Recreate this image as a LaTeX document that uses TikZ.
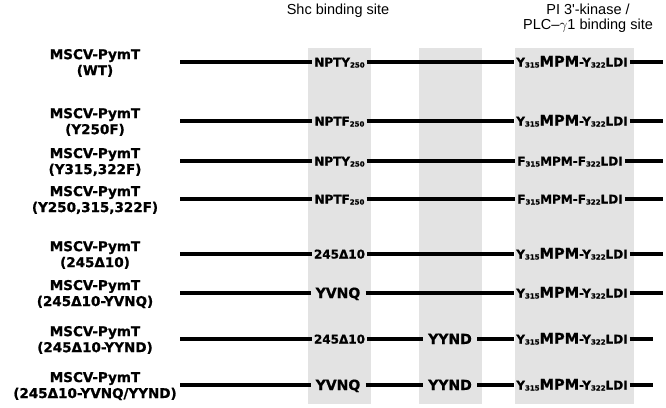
\documentclass[tikz,border=0pt]{standalone}
\usepackage{fontspec}
\setmainfont{Liberation Sans}
\newfontfamily\heavy{DejaVu Sans}[BoldFeatures={FakeBold=0.9}]
\usetikzlibrary{positioning}
\newcommand{\resno}[1]{\raisebox{-1pt}{\fontsize{7}{7}\selectfont#1}}
\newcommand{\ymy}{Y\resno{315}{\fontsize{14.5}{14.5}\selectfont MPM}-Y\resno{322}LDI}
\newcommand{\fmf}{F\resno{315}MPM-F\resno{322}LDI}
\tikzset{
  band/.style={fill=black!11,draw=none},                       % binding site column
  bb/.style={black,line width=3.2pt},                           % PymT backbone
  clone/.style={font=\heavy\bfseries\fontsize{13.5}{16}\selectfont,align=center,inner sep=0pt},
  site/.style={font=\heavy\bfseries\fontsize{12}{12}\selectfont,inner xsep=2pt,inner ysep=0pt,text height=9pt,text depth=0pt},
  bigsite/.style={site,font=\heavy\bfseries\fontsize{14}{14}\selectfont,text height=10pt,inner xsep=5pt},
  head/.style={font=\fontsize{14.5}{15}\selectfont,align=center,inner sep=0pt},
}

\begin{document}
\begin{tikzpicture}[x=1pt,y=-1pt]
  \useasboundingbox (0,0) rectangle (666,407);
  % shaded columns
  \fill[band] (308,48) rectangle (371,404);
  \fill[band] (419,48) rectangle (482,404);
  \fill[band] (515,48) rectangle (634,404);
  \node[head] (shc) at (338,11) {Shc binding site};
  \node[head] (pik) at (588,18.5) {PI 3\textquotesingle-kinase /\\PLC--$\gamma$1 binding site};
  % WT
  \node[clone] (l1) at (95,63) {MSCV-PymT\\(WT)};
  \coordinate (s1) at (180,62); \coordinate (e1) at (663,62);
  \node[site] (a1) at (339.5,62) {NPTY\resno{250}};
  \node[site] (c1) at (572,62) {\ymy};
  \draw[bb] (s1) -- (a1) -- (c1) -- (e1);
  % Y250F
  \node[clone] (l2) at (95,122) {MSCV-PymT\\(Y250F)};
  \coordinate (s2) at (180,121); \coordinate (e2) at (663,121);
  \node[site] (a2) at (339.5,121) {NPTF\resno{250}};
  \node[site] (c2) at (572,121) {\ymy};
  \draw[bb] (s2) -- (a2) -- (c2) -- (e2);
  % Y315,322F
  \node[clone] (l3) at (95,162) {MSCV-PymT\\(Y315,322F)};
  \coordinate (s3) at (180,161); \coordinate (e3) at (663,161);
  \node[site] (a3) at (339.5,161) {NPTY\resno{250}};
  \node[site] (c3) at (570,161) {\fmf};
  \draw[bb] (s3) -- (a3) -- (c3) -- (e3);
  % Y250,315,322F
  \node[clone] (l4) at (95,200) {MSCV-PymT\\(Y250,315,322F)};
  \coordinate (s4) at (180,199); \coordinate (e4) at (663,199);
  \node[site] (a4) at (339.5,199) {NPTF\resno{250}};
  \node[site] (c4) at (570,199) {\fmf};
  \draw[bb] (s4) -- (a4) -- (c4) -- (e4);
  % 245 delta 10
  \node[clone] (l5) at (95,255) {MSCV-PymT\\(245Δ10)};
  \coordinate (s5) at (180,254); \coordinate (e5) at (663,254);
  \node[site] (a5) at (339.5,254) {245Δ10};
  \node[site] (c5) at (572,254) {\ymy};
  \draw[bb] (s5) -- (a5) -- (c5) -- (e5);
  % + YVNQ
  \node[clone] (l6) at (95,294) {MSCV-PymT\\(245Δ10-YVNQ)};
  \coordinate (s6) at (180,293); \coordinate (e6) at (663,293);
  \node[bigsite] (a6) at (338,293) {YVNQ};
  \node[site] (c6) at (572,293) {\ymy};
  \draw[bb] (s6) -- (a6) -- (c6) -- (e6);
  % + YYND
  \node[clone] (l7) at (95,340) {MSCV-PymT\\(245Δ10-YYND)};
  \coordinate (s7) at (180,339); \coordinate (e7) at (653,339);
  \node[site] (a7) at (339.5,339) {245Δ10};
  \node[bigsite] (b7) at (450,339) {YYND};
  \node[site] (c7) at (572,339) {\ymy};
  \draw[bb] (s7) -- (a7) -- (b7) -- (c7) -- (e7);
  % + YVNQ/YYND
  \node[clone] (l8) at (95,386) {MSCV-PymT\\(245Δ10-YVNQ/YYND)};
  \coordinate (s8) at (180,385); \coordinate (e8) at (653,385);
  \node[bigsite] (a8) at (338,385) {YVNQ};
  \node[bigsite] (b8) at (450,385) {YYND};
  \node[site] (c8) at (572,385) {\ymy};
  \draw[bb] (s8) -- (a8) -- (b8) -- (c8) -- (e8);
\end{tikzpicture}
\end{document}
